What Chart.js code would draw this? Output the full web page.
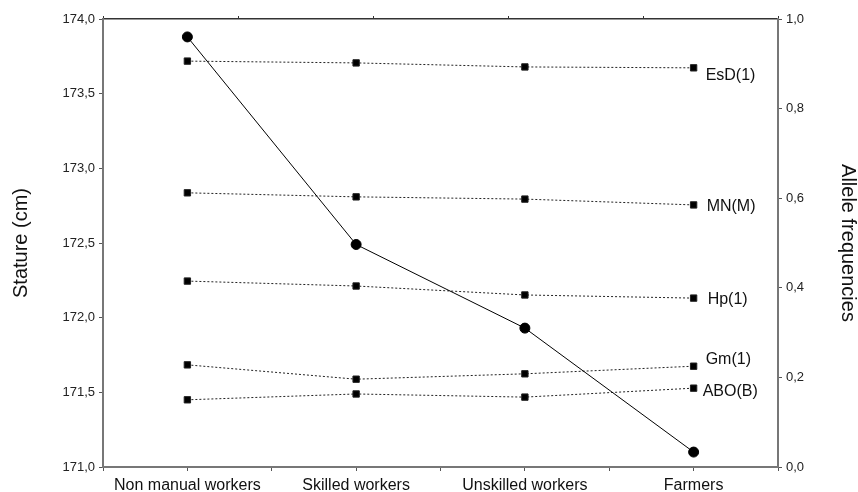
<!DOCTYPE html>
<html>
<head>
<meta charset="utf-8">
<script src="https://cdn.jsdelivr.net/npm/chart.js@4"></script>
<style>
  body { margin: 0; background: #fff; }
</style>
</head>
<body>
<canvas id="myChart" width="858" height="492"></canvas>
<script>
'use strict'

// groupes sociaux (axe x)
const categories = ['Non manual workers', 'Skilled workers', 'Unskilled workers', 'Farmers'];

// taille moyenne (axe gauche, cm)
const stature = [173.88, 172.49, 171.93, 171.10];

// fréquences alléliques (axe droit)
const alleleNames = ['EsD(1)', 'MN(M)', 'Hp(1)', 'Gm(1)', 'ABO(B)'];
const esd = [0.906, 0.902, 0.893, 0.891];
const mn = [0.612, 0.603, 0.598, 0.585];
const hp = [0.415, 0.404, 0.384, 0.377];
const gm = [0.228, 0.196, 0.208, 0.225];
const abo = [0.150, 0.163, 0.156, 0.176];

const leftTicks = [171.0, 171.5, 172.0, 172.5, 173.0, 173.5, 174.0];
const rightTicks = [0.0, 0.2, 0.4, 0.6, 0.8, 1.0];

// décalage vertical des étiquettes (px)
const labelShift = [8, 2, 1, -7, 3];
const labelGap = [12, 13, 14, 12, 9];

const FONT = "'Liberation Sans', Arial, sans-serif";

function points(values) {
  return values.map((v, i) => ({ x: i, y: v }));
}

function comma(v) {
  return Number(v).toFixed(1).replace('.', ',');
}

const alleleSeries = [esd, mn, hp, gm, abo];

let datasets = [{
  label: 'Stature',
  data: points(stature),
  yAxisID: 'y',
  borderColor: '#000',
  borderWidth: 1,
  backgroundColor: '#000',
  pointRadius: 5,
  pointStyle: 'circle',
  tension: 0
}];

for (let i = 0; i < alleleSeries.length; i++) {
  datasets.push({
    label: alleleNames[i],
    data: points(alleleSeries[i]),
    yAxisID: 'y1',
    borderColor: '#222',
    borderWidth: 1,
    borderDash: [2, 2],
    backgroundColor: '#000',
    pointRadius: 4.5,
    pointStyle: 'rect',
    tension: 0
  });
}

// étiquettes à droite des séries alléliques
const endLabels = {
  id: 'endLabels',
  afterDatasetsDraw(chart) {
    const c = chart.ctx;
    c.save();
    c.font = '16px ' + FONT;
    c.fillStyle = '#111';
    c.textAlign = 'left';
    c.textBaseline = 'middle';
    for (let i = 0; i < alleleNames.length; i++) {
      const meta = chart.getDatasetMeta(i + 1);
      const pt = meta.data[meta.data.length - 1];
      c.fillText(alleleNames[i], pt.x + labelGap[i], pt.y + labelShift[i]);
    }
    c.restore();
  }
};

let ctx = document.getElementById('myChart');

new Chart(ctx, {
  type: 'line',
  data: { datasets: datasets },
  plugins: [endLabels],
  options: {
    responsive: false,
    devicePixelRatio: 1,
    animation: false,
    layout: { padding: 0 },
    plugins: {
      legend: { display: false },
      tooltip: { enabled: false }
    },
    scales: {
      x: {
        type: 'linear',
        position: 'bottom',
        min: -0.5,
        max: 3.5,
        afterBuildTicks: (scale) => {
          scale.ticks = [];
          for (let i = 0; i <= 8; i++) scale.ticks.push({ value: -0.5 + i * 0.5 });
        },
        afterFit: (scale) => { scale.height = 25; },
        border: { display: true, color: '#777', width: 2 },
        grid: { drawOnChartArea: false, drawTicks: true, tickLength: 4, color: '#555' },
        ticks: {
          autoSkip: false,
          maxRotation: 0,
          padding: 5,
          color: '#111',
          font: { family: FONT, size: 16 },
          callback: (v) => Number.isInteger(v) ? categories[v] : ''
        }
      },
      x2: {
        type: 'linear',
        position: 'top',
        min: 0,
        max: 5,
        afterFit: (scale) => { scale.height = 19; },
        border: { display: true, color: '#333', width: 1.5 },
        grid: { drawOnChartArea: false, drawTicks: true, tickLength: 3, color: '#333' },
        ticks: { display: false, stepSize: 1 }
      },
      y: {
        position: 'left',
        min: 171,
        max: 174,
        afterBuildTicks: (scale) => { scale.ticks = leftTicks.map(v => ({ value: v })); },
        afterFit: (scale) => { scale.width = 103; },
        border: { display: true, color: '#777', width: 2 },
        grid: { drawOnChartArea: false, drawTicks: true, tickLength: 4, color: '#555' },
        ticks: {
          padding: 4,
          color: '#222',
          font: { family: FONT, size: 13 },
          callback: (v) => comma(v)
        },
        title: {
          display: true,
          text: 'Stature (cm)',
          color: '#111',
          font: { family: FONT, size: 20, lineHeight: 1 },
          padding: { top: 11, bottom: 0 }
        }
      },
      y1: {
        position: 'right',
        min: 0,
        max: 1,
        afterBuildTicks: (scale) => { scale.ticks = rightTicks.map(v => ({ value: v })); },
        afterFit: (scale) => { scale.width = 80; },
        border: { display: true, color: '#777', width: 2 },
        grid: { drawOnChartArea: false, drawTicks: true, tickLength: 4, color: '#555' },
        ticks: {
          padding: 4,
          color: '#222',
          font: { family: FONT, size: 13 },
          callback: (v) => comma(v)
        },
        title: {
          display: true,
          text: 'Allele frequencies',
          color: '#111',
          font: { family: FONT, size: 20, lineHeight: 1 },
          padding: { top: 0, bottom: 0 }
        }
      }
    }
  }
});
</script>
</body>
</html>
